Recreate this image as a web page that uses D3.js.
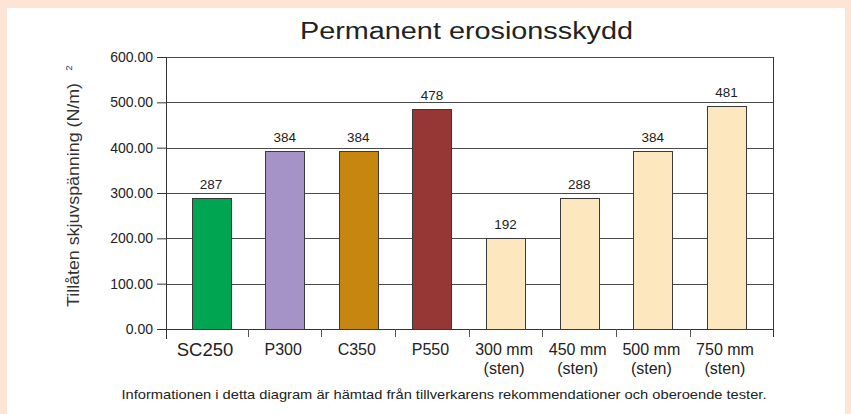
<!DOCTYPE html>
<html>
<head>
<meta charset="utf-8">
<script src="https://cdn.jsdelivr.net/npm/d3@7"></script>
<style>
	html, body { margin: 0; padding: 0; background: #fde4d4; }
	svg { display: block; font-family: "Liberation Sans", Arial, Helvetica, sans-serif; }
</style>
</head>
<body>
<svg id="chart" width="851" height="414"></svg>
<script>
(function() {
	'use strict';

	var categories = ['SC250', 'P300', 'C350', 'P550', '300 mm|(sten)', '450 mm|(sten)', '500 mm|(sten)', '750 mm|(sten)'];
	// bar heights as drawn in the picture
	var barValues = [290, 393, 393, 486, 201, 290, 393, 493];
	// values printed above the bars
	var valueLabels = ['287', '384', '384', '478', '192', '288', '384', '481'];
	var colors = ['#00a551', '#a593c7', '#c7860f', '#963735', '#fde7be', '#fde7be', '#fde7be', '#fde7be'];
	var yTicks = [0, 100, 200, 300, 400, 500, 600];

	var svg = d3.select('#chart');

	// white panel
	svg.append('rect')
		.attr('x', 7).attr('y', 8)
		.attr('width', 838).attr('height', 406)
		.attr('fill', '#ffffff');

	var margin = { top: 57, left: 166 };
	var width = 607, height = 272;

	var g = svg.append('g')
		.attr('transform', 'translate(' + margin.left + ',' + margin.top + ')');

	var x = d3.scaleBand()
		.domain(categories)
		.range([8.2, 597.3])
		.paddingInner(0.47)
		.paddingOuter(0.235);

	var y = d3.scaleLinear()
		.domain([0, 600])
		.range([height, 0]);

	// gridlines
	g.selectAll('.grid')
		.data(yTicks)
		.enter().append('line')
		.attr('class', 'grid')
		.attr('x1', 0).attr('x2', width)
		.attr('y1', function(d) { return Math.round(y(d)) + 0.5; })
		.attr('y2', function(d) { return Math.round(y(d)) + 0.5; })
		.attr('stroke', '#4a4a4a')
		.attr('stroke-width', 1);

	// y axis
	var yAxis = g.append('g')
		.call(d3.axisLeft(y).tickValues(yTicks).tickSize(9).tickPadding(4).tickFormat(d3.format('.2f')));
	yAxis.select('.domain').attr('stroke', '#333');
	yAxis.selectAll('line').attr('stroke', '#333');
	yAxis.selectAll('text')
		.attr('fill', '#222')
		.style('font-size', '14px')
		.style('font-family', '"Liberation Sans", Arial, sans-serif');

	// right border
	g.append('line')
		.attr('x1', width + 0.5).attr('x2', width + 0.5)
		.attr('y1', 0).attr('y2', height)
		.attr('stroke', '#333');

	// x axis line and ticks at band boundaries
	g.append('line')
		.attr('x1', 0).attr('x2', width)
		.attr('y1', height + 0.5).attr('y2', height + 0.5)
		.attr('stroke', '#333');

	var step = x.step();
	var bounds = categories.slice(1).map(function(c) {
		return Math.round(x(c) - (step - x.bandwidth()) / 2) + 0.5;
	});
	g.selectAll('.xtick')
		.data(bounds)
		.enter().append('line')
		.attr('class', 'xtick')
		.attr('x1', function(d) { return d; })
		.attr('x2', function(d) { return d; })
		.attr('y1', height).attr('y2', height + 8)
		.attr('stroke', '#555');
	g.append('line')
		.attr('x1', 0.5).attr('x2', 0.5)
		.attr('y1', height).attr('y2', height + 10)
		.attr('stroke', '#333');
	g.append('line')
		.attr('x1', width + 0.5).attr('x2', width + 0.5)
		.attr('y1', height).attr('y2', height + 8)
		.attr('stroke', '#333');

	// bars
	g.selectAll('.bar')
		.data(barValues)
		.enter().append('rect')
		.attr('class', 'bar')
		.attr('x', function(d, i) { return Math.round(x(categories[i])) + 0.5; })
		.attr('y', function(d) { return Math.round(y(d)) + 0.5; })
		.attr('width', Math.round(x.bandwidth()))
		.attr('height', function(d) { return Math.round(height - y(d)); })
		.attr('fill', function(d, i) { return colors[i]; })
		.attr('stroke', '#3a3a3a')
		.attr('stroke-width', 1);

	// value labels
	g.selectAll('.val')
		.data(barValues)
		.enter().append('text')
		.attr('class', 'val')
		.attr('x', function(d, i) { return x(categories[i]) + x.bandwidth() / 2; })
		.attr('y', function(d) { return y(d) - 8.5; })
		.attr('text-anchor', 'middle')
		.attr('fill', '#222')
		.style('font-size', '13.5px')
		.text(function(d, i) { return valueLabels[i]; });

	// category labels
	var cat = g.selectAll('.cat')
		.data(categories)
		.enter().append('text')
		.attr('class', 'cat')
		.attr('text-anchor', 'middle')
		.attr('fill', '#222')
		.attr('transform', function(d, i) {
			var cx = x(d) + x.bandwidth() / 2 - (i === 0 ? 6 : 1.5);
			return 'translate(' + cx + ',' + (height + 25.5) + ')';
		})
		.style('font-size', function(d, i) { return i === 0 ? '18.5px' : '16px'; });
	cat.each(function(d, i) {
		var parts = d.split('|');
		var t = d3.select(this);
		parts.forEach(function(p, k) {
			t.append('tspan')
				.attr('x', 0)
				.attr('y', k * 19.5 + (i === 0 ? 1.5 : 0))
				.text(p);
		});
	});

	// title
	svg.append('text')
		.attr('x', 466.5).attr('y', 38.5)
		.attr('text-anchor', 'middle')
		.attr('fill', '#222')
		.attr('textLength', 333)
		.attr('lengthAdjust', 'spacingAndGlyphs')
		.style('font-size', '23.5px')
		.text('Permanent erosionsskydd');

	// y label
	var yl = svg.append('g')
		.attr('transform', 'translate(79,195) rotate(-90)');
	yl.append('text')
		.attr('text-anchor', 'middle')
		.attr('fill', '#333')
		.attr('textLength', 224)
		.attr('lengthAdjust', 'spacingAndGlyphs')
		.style('font-size', '16.5px')
		.text('Tillåten skjuvspänning (N/m)');
	yl.append('text')
		.attr('x', 127).attr('y', -7)
		.attr('text-anchor', 'middle')
		.attr('fill', '#333')
		.style('font-size', '9px')
		.text('2');

	// footnote
	svg.append('text')
		.attr('x', 444).attr('y', 399)
		.attr('text-anchor', 'middle')
		.attr('fill', '#222')
		.attr('textLength', 645)
		.attr('lengthAdjust', 'spacingAndGlyphs')
		.style('font-size', '13px')
		.text('Informationen i detta diagram är hämtad från tillverkarens rekommendationer och oberoende tester.');
})();
</script>
</body>
</html>
